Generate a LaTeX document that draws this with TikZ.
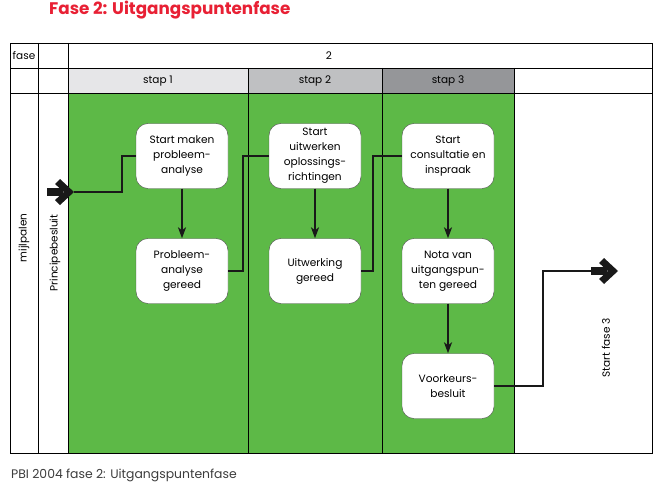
\documentclass[tikz,border=0pt]{standalone}
\usepackage{fontspec}
\setmainfont{Poppins}
\usetikzlibrary{arrows.meta}

\definecolor{phasegreen}{RGB}{93,185,71}
\definecolor{stapone}{RGB}{230,230,232}
\definecolor{staptwo}{RGB}{191,192,194}
\definecolor{stapthree}{RGB}{149,150,153}
\definecolor{titlered}{RGB}{232,32,52}
\definecolor{captiongray}{RGB}{60,60,60}

\newcommand*{\tabtop}{43}
\newcommand*{\tabbot}{453}
\newcommand*{\tableft}{10}
\newcommand*{\tabright}{652}

% thick milestone arrow, tip at #1
\newcommand*{\bigarrow}[1]{%
	\begin{scope}[shift={#1}]
		\fill[black!90] (-27,-4) rectangle (-11,4);
		\fill[black!90] (-14,-13) -- (0,0) -- (-14,13) -- (-19,8) -- (-10,0) -- (-19,-8) -- cycle;
	\end{scope}
}

\begin{document}
\begin{tikzpicture}
[
	x=1pt,
	y=-1pt,
	stepbox/.style={draw=black!70,fill=white,rounded corners=12pt,thin,
		minimum width=92pt,minimum height=65pt,inner sep=2pt,
		align=center,font=\fontsize{10.6}{15}\selectfont},
	label/.style={font=\fontsize{10.5}{12}\selectfont},
	flow/.style={line width=2pt,black!90},
	down/.style={flow,-{Stealth[length=11pt,width=8pt,inset=3pt]}}
]
	\useasboundingbox (0,0) rectangle (659,487);

	% fills
	\fill[phasegreen] (68,93) rectangle (514,\tabbot);
	\fill[stapone] (68,68) rectangle (248,93);
	\fill[staptwo] (248,68) rectangle (382,93);
	\fill[stapthree] (382,68) rectangle (514,93);

	% table lines
	\draw[thin] (\tableft,\tabtop) rectangle (\tabright,\tabbot);
	\draw[thin] (\tableft,68) -- (\tabright,68);
	\draw[thin] (\tableft,93) -- (\tabright,93);
	\foreach \x in {38,68} {
		\draw[thin] (\x,\tabtop) -- (\x,\tabbot);
	}
	\foreach \x in {248,382,514} {
		\draw[thin] (\x,68) -- (\x,\tabbot);
	}

	% header texts
	\node[label] (fase) at (24,55.5) {fase};
	\node[label] (nr) at (329,55.5) {2};
	\node[label] (stap1) at (158,81) {stap 1};
	\node[label] (stap2) at (315,81) {stap 2};
	\node[label] (stap3) at (448,81) {stap 3};
	\node[label,rotate=90] (mijl) at (24,238) {mijlpalen};
	\node[label,rotate=90] (princ) at (55,253) {Principebesluit};
	\node[label,rotate=90] (fase3) at (606,348) {Start fase 3};

	% title and caption
	\node[anchor=west,inner sep=0pt,text=titlered,font=\fontsize{16.8}{18}\selectfont\bfseries]
		(title) at (49,10) {Fase 2: Uitgangspuntenfase};
	\node[anchor=west,inner sep=0pt,text=captiongray,font=\fontsize{12.4}{14}\selectfont]
		(caption) at (11,475) {PBI 2004 fase 2: Uitgangspuntenfase};

	% steps
	\node[stepbox] (startanalyse) at (182,156) {Start maken\\probleem-\\analyse};
	\node[stepbox] (analyse) at (182,271) {Probleem-\\analyse\\gereed};
	\node[stepbox] (startuitw) at (315,156) {Start\\uitwerken\\oplossings-\\richtingen};
	\node[stepbox] (uitw) at (315,271) {Uitwerking\\gereed};
	\node[stepbox] (startcons) at (448,156) {Start\\consultatie en\\inspraak};
	\node[stepbox] (nota) at (448,271) {Nota van\\uitgangspun-\\ten gereed};
	\node[stepbox] (besluit) at (448,386) {Voorkeurs-\\besluit};

	% milestones
	\coordinate (pbtip) at (74,192);
	\coordinate (endtail) at (594,271);
	\coordinate (endtip) at (618,271);
	\bigarrow{(pbtip)}
	\bigarrow{(endtip)}

	% connectors
	\draw[flow] (pbtip) -- ++(48,0) |- (startanalyse.west);
	\draw[down] (startanalyse) -- (analyse);
	\draw[flow] (analyse.east) -- ++(15,0) |- (startuitw.west);
	\draw[down] (startuitw) -- (uitw);
	\draw[flow] (uitw.east) -- ++(12,0) |- (startcons.west);
	\draw[down] (startcons) -- (nota);
	\draw[down] (nota) -- (besluit);
	\draw[flow] (besluit.east) -- ++(49,0) |- (endtail);

\end{tikzpicture}
\end{document}
